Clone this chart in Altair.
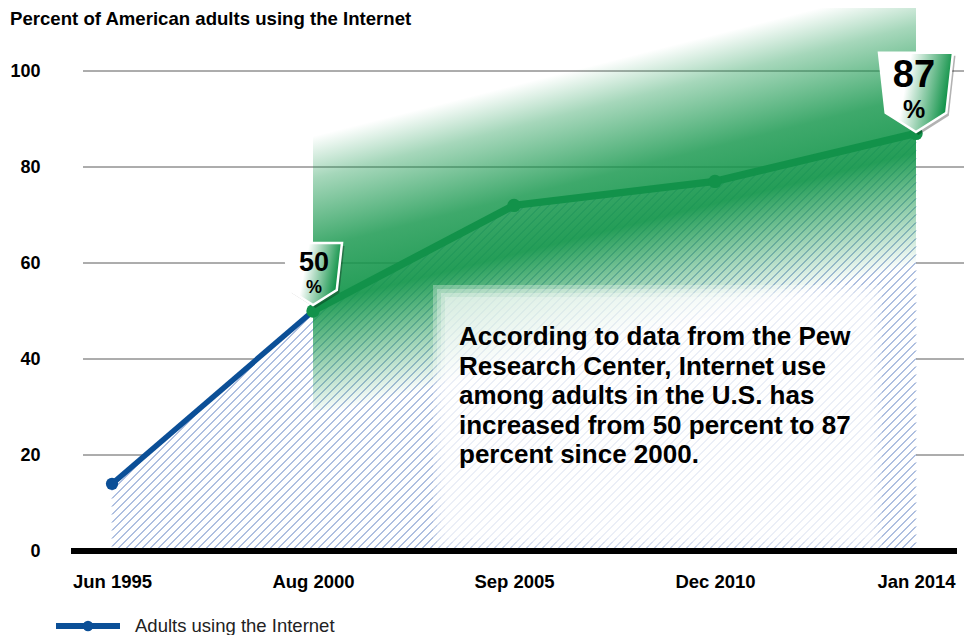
import json
import numpy as np
import pandas as pd
import altair as alt

# ---------------- data ----------------
dates = ["Jun 1995", "Aug 2000", "Sep 2005", "Dec 2010", "Jan 2014"]
values = [14, 50, 72, 77, 87]
y_ticks = [0, 20, 40, 60, 80, 100]
badge_dates = ["Aug 2000", "Jan 2014"]
badge_labels = ["50", "87"]
title_text = "Percent of American adults using the Internet"
series_name = "Adults using the Internet"
note_lines = [
    "According to data from the Pew",
    "Research Center, Internet use",
    "among adults in the U.S. has",
    "increased from 50 percent to 87",
    "percent since 2000.",
]

# ---------------- layout / style ----------------
FONT = "Liberation Sans, Arial, sans-serif"
NARROW = "Liberation Sans Narrow, Arial Narrow, Liberation Sans, Arial, sans-serif"
BLUE = "#0b4f97"
GREEN = "#12924a"
HATCH = "#5f80c2"
W, H = 886, 480
PAD = 0.204
n = len(dates)
XDOM = [-PAD, n - 1 + PAD]
YDOM = [0, 100]

df = pd.DataFrame({"idx": list(range(n)), "date": dates, "value": values})
i_start = dates.index(badge_dates[0])
i_end = dates.index(badge_dates[1])

# ---------------- hatch pattern (decoration) ----------------
ux = W / (XDOM[1] - XDOM[0])
uy = H / (YDOM[1] - YDOM[0])
px = [(i - XDOM[0]) * ux for i in range(n)]
py = [H - v * uy for v in values]


def curve(x):
    return float(np.interp(x, px, py))


xL, xR = px[0], px[-1]
step = 8.0
rows = []
c = xL + 3.5
while c < xR + H:
    xs = max(xL, c - H)
    if xs < xR and c - xs >= curve(xs):
        if c - xR >= curve(xR):
            xe = xR
        else:
            lo, hi = xs, xR
            for _ in range(40):
                mid = (lo + hi) / 2
                if c - mid >= curve(mid):
                    lo = mid
                else:
                    hi = mid
            xe = lo
        ys, ye = c - xs, c - xe
        rows.append({"idx": xs / ux + XDOM[0], "value": (H - ys) / uy,
                     "idx2": xe / ux + XDOM[0], "value2": (H - ye) / uy})
    c += step
hatch_df = pd.DataFrame(rows)

# ---------------- shared encodings ----------------
label_expr = json.dumps(dates) + "[datum.value]"
X = alt.X("idx:Q", scale=alt.Scale(domain=XDOM, nice=False, zero=False),
          axis=alt.Axis(values=list(range(n)), labelExpr=label_expr, ticks=False,
                        domain=False, grid=False, labelFontSize=18.5, labelFontWeight="bold",
                        labelFont=FONT, labelColor="#000", labelPadding=21,
                        labelFlush=False, labelOverlap=False, title=None))
Y = alt.Y("value:Q", scale=alt.Scale(domain=YDOM, nice=False, zero=True),
          axis=alt.Axis(values=y_ticks, ticks=False, domain=False, grid=False,
                        labelFontSize=18, labelFontWeight="bold", labelFont=FONT,
                        labelColor="#000", labelPadding=31, title=None))

# gridlines
grid = alt.Chart(pd.DataFrame({"value": y_ticks[1:]})).mark_rule(
    color="#5a5a5a", strokeWidth=1).encode(y=Y, x=alt.value(12), x2=alt.value(899))

# white fill under the curve
under = alt.Chart(df).mark_area(color="white", opacity=1).encode(x=X, y=Y)

# hatch
hatch = alt.Chart(hatch_df).mark_rule(color=HATCH, strokeWidth=1).encode(
    x=X, y=Y, x2="idx2:Q", y2="value2:Q")

# green gradient band
g = (20, 150, 75)
gstops = [(0, 0.0), (0.15, 0.38), (0.4, 0.82), (0.6, 0.93), (0.8, 0.45), (1, 0.0)]
green_grad = alt.LinearGradient(
    gradient="linear",
    stops=[alt.GradientStop(color=f"rgba({g[0]},{g[1]},{g[2]},{a})", offset=o) for o, a in gstops],
    x1=0.5, y1=0.129, x2=0.7325, y2=0.741)
band = alt.Chart(pd.DataFrame({"idx": [i_start], "idx2": [i_end]})).mark_rect(
    fill=green_grad, strokeWidth=0).encode(
    x=X, x2="idx2:Q", y=alt.value(-63), y2=alt.value(339))

# soft white box behind note (stacked translucent rects)
box_layers = []
for inset in [0, 4, 8, 12]:
    box_layers.append(
        alt.Chart(pd.DataFrame({"k": [inset]})).mark_rect(
            color="white", opacity=0.3, strokeWidth=0).encode(
            x=alt.value(362 + inset), x2=alt.value(811 - inset),
            y=alt.value(214 + inset), y2=alt.value(479 - inset)))

# baseline
base = alt.Chart(pd.DataFrame({"value": [0]})).mark_rule(color="#000", strokeWidth=6).encode(
    y=Y, x=alt.value(0), x2=alt.value(W))

# lines and dots
blue_line = alt.Chart(df[df.idx <= i_start]).mark_line(
    color=BLUE, strokeWidth=5.5, strokeJoin="round").encode(x=X, y=Y)
green_line = alt.Chart(df[df.idx >= i_start]).mark_line(
    color=GREEN, strokeWidth=7.5, strokeJoin="round").encode(x=X, y=Y)
blue_dot = alt.Chart(df[df.idx < i_start]).mark_circle(
    color=BLUE, size=150, opacity=1).encode(x=X, y=Y)
green_dots = alt.Chart(df[df.idx >= i_start]).mark_circle(
    color=GREEN, size=180, opacity=1).encode(x=X, y=Y)

# badges
SHIELD = "M-1,-1.07 L1,-1.07 L0.82,0.55 L0,1.07 L-0.82,0.55 Z"
badge_grad = alt.LinearGradient(
    gradient="linear",
    stops=[alt.GradientStop(color="#ffffff", offset=0),
           alt.GradientStop(color="#ffffff", offset=0.42),
           alt.GradientStop(color="#0f9247", offset=1)],
    x1=0, y1=0, x2=1, y2=0.2)
bdf = df[df.date.isin(badge_dates)].copy()
bdf["label"] = badge_labels


def badge(row_date, width, yoff, num_size, num_font, num_dx, num_dy, pct_size, pct_dy):
    d = bdf[bdf.date == row_date]
    size = width * width
    shadow = alt.Chart(d).mark_point(shape=SHIELD, size=size, filled=True, color="#000",
                                     opacity=0.3, strokeWidth=0, xOffset=2.5,
                                     yOffset=yoff + 3).encode(x=X, y=Y)
    shape = alt.Chart(d).mark_point(shape=SHIELD, size=size, filled=True, fill=badge_grad,
                                    stroke="white", strokeWidth=2.5, opacity=1,
                                    yOffset=yoff).encode(x=X, y=Y)
    num = alt.Chart(d).mark_text(fontSize=num_size, fontWeight="bold", font=num_font,
                                 color="#000", baseline="middle", align="center",
                                 xOffset=num_dx, yOffset=num_dy).encode(x=X, y=Y, text="label:N")
    pct = alt.Chart(d).mark_text(fontSize=pct_size, fontWeight="bold", font=num_font,
                                 color="#000", baseline="middle", align="center",
                                 xOffset=num_dx, yOffset=pct_dy).encode(x=X, y=Y, text=alt.value("%"))
    return [shadow, shape, num, pct]


b50 = badge(badge_dates[0], 58, -37, 27, FONT, 1, -48, 18, -23.5)
b87 = badge(badge_dates[1], 74, -41, 38, NARROW, -2, -57, 25, -23)

# note text
note = alt.Chart(pd.DataFrame({"k": [0]})).mark_text(
    align="left", baseline="top", fontSize=26, fontWeight="bold", font=FONT,
    color="#000", lineHeight=29.5).encode(
    x=alt.value(388), y=alt.value(253), text=alt.value(note_lines))

# title
title = alt.Chart(pd.DataFrame({"t": [title_text]})).mark_text(
    align="left", baseline="middle", fontSize=18.6, fontWeight="bold", font=FONT,
    color="#000").encode(x=alt.value(-61), y=alt.value(-52), text="t:N")

# legend
leg_df = pd.DataFrame({"s": [series_name]})
leg_line = alt.Chart(leg_df).mark_rule(color=BLUE, strokeWidth=6).encode(
    x=alt.value(-15), x2=alt.value(49), y=alt.value(555))
leg_dot = alt.Chart(leg_df).mark_circle(color=BLUE, size=110, opacity=1).encode(
    x=alt.value(17), y=alt.value(555))
leg_text = alt.Chart(leg_df).mark_text(
    align="left", baseline="middle", fontSize=18.5, font=FONT, color="#222").encode(
    x=alt.value(64), y=alt.value(555), text="s:N")

chart = alt.layer(
    grid, under, hatch, band, *box_layers, base, blue_line, green_line, blue_dot, green_dots,
    *b50, *b87, note, title, leg_line, leg_dot, leg_text
).properties(
    width=W, height=H,
    padding={"left": 63, "top": 63, "right": 7, "bottom": 84},
    autosize=alt.AutoSizeParams(type="none"),
).configure_view(stroke=None)

chart.save("out.html", embed_options={"renderer": "svg", "actions": False})
